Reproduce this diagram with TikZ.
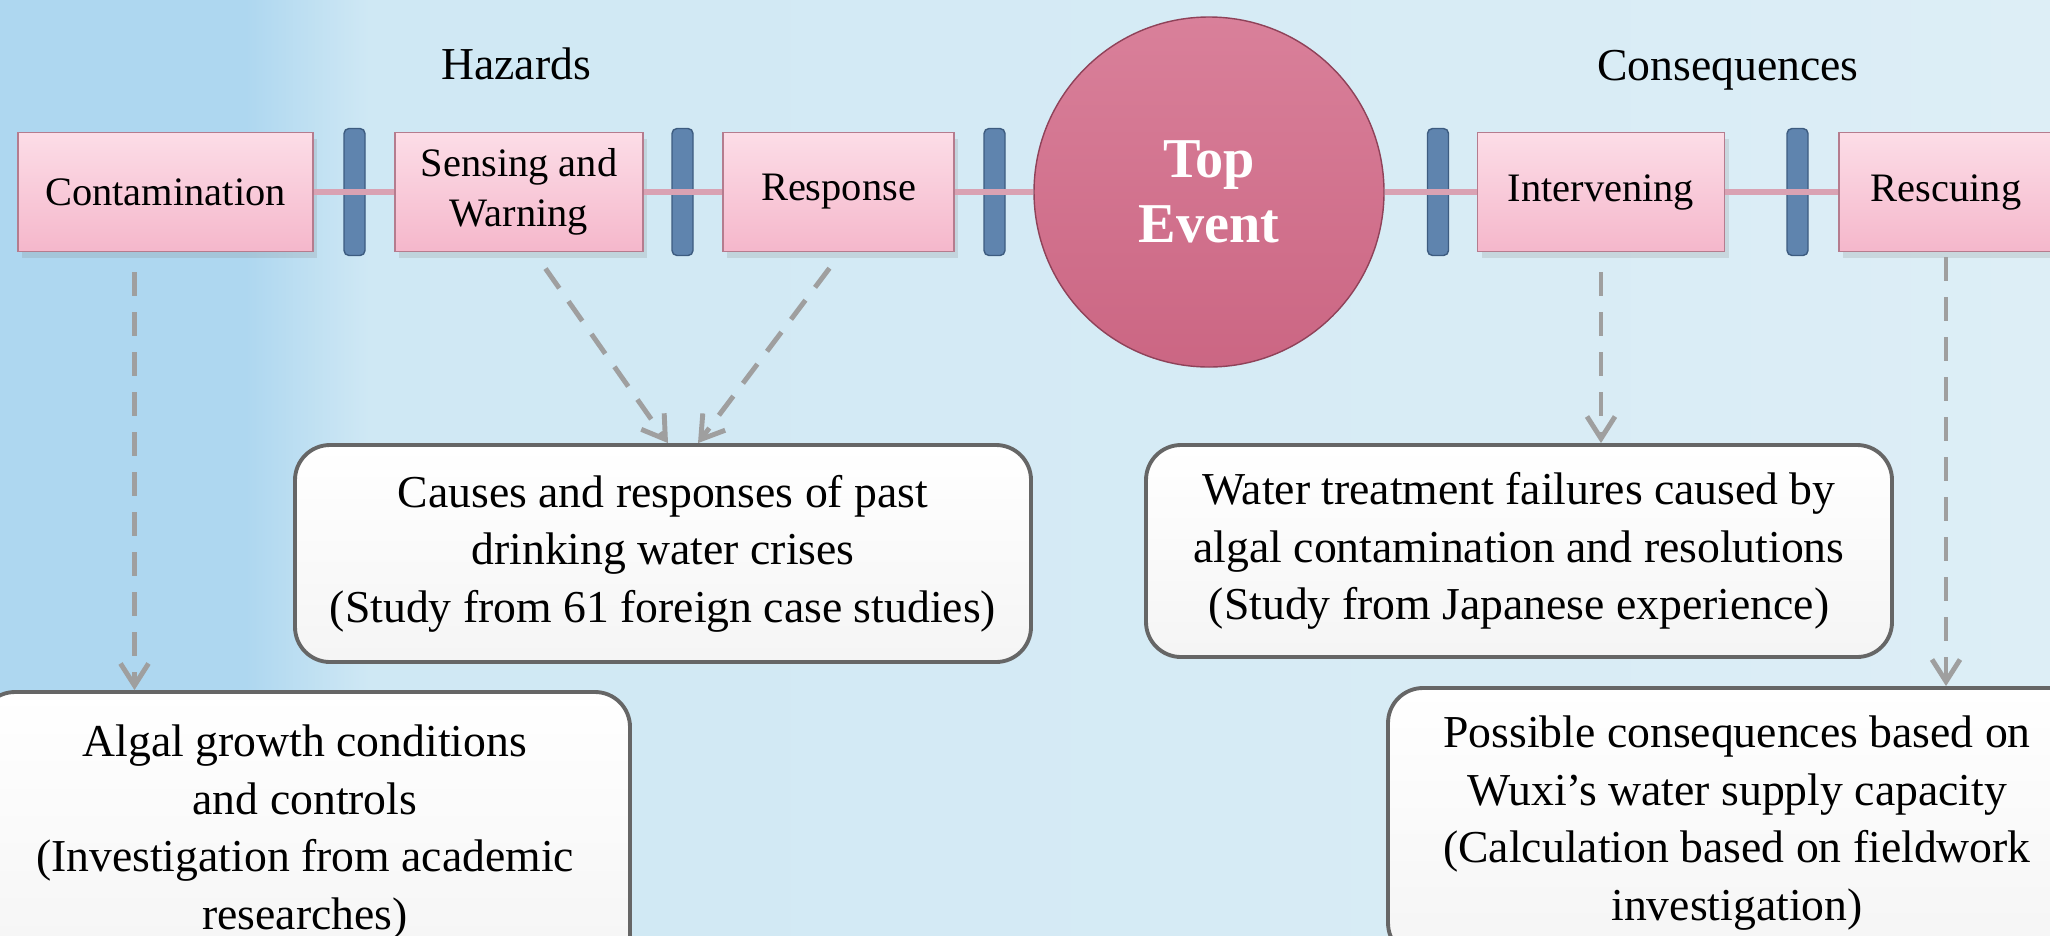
\documentclass[tikz,border=0pt]{standalone}
\usepackage{fontspec}
\setmainfont{Liberation Serif}
\usetikzlibrary{arrows.meta,shadows}

\definecolor{skyA}{HTML}{AED7F0}
\definecolor{skyB}{HTML}{CFE8F4}
\definecolor{skyC}{HTML}{DDEEF6}
\definecolor{stagetop}{HTML}{FCDDE7}
\definecolor{stagebot}{HTML}{F5B7CB}
\definecolor{stageline}{HTML}{B57C8E}
\definecolor{barfill}{HTML}{5F84AE}
\definecolor{barline}{HTML}{3D5C80}
\definecolor{eventtop}{HTML}{D9809A}
\definecolor{eventbot}{HTML}{CB6683}
\definecolor{eventline}{HTML}{8F4259}
\definecolor{linkline}{HTML}{D9A2B3}
\definecolor{boxline}{HTML}{666666}
\pgfdeclarehorizontalshading{sky}{100bp}{color(0bp)=(skyA); color(31bp)=(skyA);
  color(34bp)=(skyB); color(75bp)=(skyC); color(100bp)=(skyC)}

\begin{document}
\begin{tikzpicture}
[every node/.style={font=\fontsize{13}{16.4}\selectfont},
 phase/.style={font=\fontsize{13}{15}\selectfont},
 stage/.style={rectangle,draw=stageline,top color=stagetop,bottom color=stagebot,
   minimum height=1.19cm,align=center,font=\fontsize{11.5}{14.2}\selectfont,
   drop shadow={opacity=0.2,shadow xshift=0.4mm,shadow yshift=-0.6mm}},
 barrier/.style={rectangle,rounded corners=0.5mm,draw=barline,fill=barfill,
   minimum width=0.21cm,minimum height=1.27cm,inner sep=0pt},
 event/.style={circle,draw=eventline,top color=eventtop,bottom color=eventbot,
   minimum size=3.5cm,text=white,align=center,
   font=\bfseries\fontsize{16}{18.5}\selectfont},
 source/.style={rectangle,rounded corners=3.5mm,draw=boxline,line width=1.1pt,
   top color=white,bottom color=gray!8,align=center,inner sep=0pt},
 link/.style={draw=linkline,line width=1.6pt},
 feed/.style={draw=gray!75,line width=1.4pt,dash pattern=on 2.4mm off 1.6mm,
   -{Straight Barb[length=2.2mm,width=2.8mm]},shorten <=2mm}]

  \path[use as bounding box] (0,0) rectangle (20.5,-9.35);
  \clip (0,0) rectangle (20.5,-9.35);
  \shade[shading=sky] (0,0) rectangle (20.5,-9.35);

  \node[phase] (haz)  at (5.16,-0.64)  {Hazards};
  \node[phase] (cons) at (17.28,-0.70) {Consequences};

  \node[stage,minimum width=2.95cm] (n1) at (1.655,-1.92) {Contamination};
  \node[barrier] (b1) at (3.545,-1.92) {};
  \node[stage,minimum width=2.48cm] (n2) at (5.19,-1.92)  {Sensing and\\Warning};
  \node[barrier] (b2) at (6.825,-1.92) {};
  \node[stage,minimum width=2.31cm] (n3) at (8.385,-1.92) {Response};
  \node[barrier] (b3) at (9.945,-1.92) {};
  \node[event] (top) at (12.09,-1.92) {Top\\Event};
  \node[barrier] (b4) at (14.38,-1.92) {};
  \node[stage,minimum width=2.47cm] (n4) at (16.01,-1.92) {Intervening};
  \node[barrier] (b5) at (17.975,-1.92) {};
  \node[stage,minimum width=2.14cm] (n5) at (19.46,-1.92) {Rescuing};

  \node[source,minimum width=7.36cm,minimum height=2.17cm] (c1) at (6.63,-5.535)
    {Causes and responses of past\\drinking water crises\\(Study from 61 foreign case studies)};
  \node[source,minimum width=7.46cm,minimum height=2.12cm] (c2) at (15.19,-5.51)
    {Water treatment failures caused by\\algal contamination and resolutions\\(Study from Japanese experience)};
  \node[source,minimum width=6.5cm,minimum height=2.8cm] (a1) at (3.05,-8.32)
    {Algal growth conditions\\and controls\\(Investigation from academic\\researches)};
  \node[source,minimum width=6.98cm,minimum height=2.7cm] (a2) at (17.37,-8.23)
    {Possible consequences based on\\Wuxi's water supply capacity\\(Calculation based on fieldwork\\investigation)};

  \foreach \from/\to in {n1/n2,n2/n3,n3/top,top/n4,n4/n5}
    \draw[link] (\from) -- (\to);

  \draw[feed] ([xshift=-3.1mm]n1.south) -- ([xshift=-3.1mm]n1.south |- a1.north);
  \draw[feed] ([xshift=1.5mm]n2.south) -- ([xshift=0.5mm]c1.north);
  \draw[feed] ([xshift=0.3mm]n3.south) -- ([xshift=3.5mm]c1.north);
  \draw[feed] (n4.south) -- (n4.south |- c2.north);
  \draw[feed,shorten <=0.5mm] (n5.south) -- (n5.south |- a2.north);

\end{tikzpicture}
\end{document}
